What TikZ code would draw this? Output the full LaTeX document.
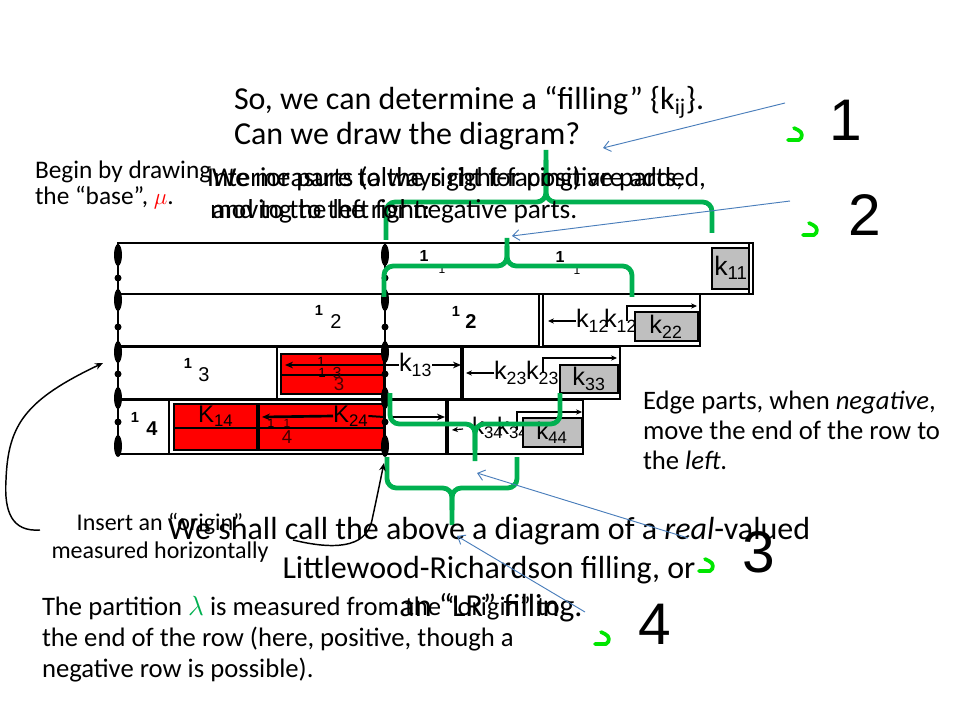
\documentclass[tikz,border=0pt]{standalone}
\usepackage{fontspec}
\setmainfont{Carlito}
\newfontfamily\arialf{Liberation Sans}
\usetikzlibrary{arrows.meta}
\definecolor{brgreen}{HTML}{00B050}
\definecolor{bluearr}{HTML}{4A7EBB}
\definecolor{markgreen}{HTML}{00E600}
\definecolor{boxgray}{HTML}{BFBFBF}
\begin{document}
\begin{tikzpicture}[x=0.75pt,y=-0.75pt,
  txt/.style={inner sep=0pt, outer sep=0pt, anchor=base west},
  ctxt/.style={inner sep=0pt, outer sep=0pt, anchor=base},
  rowbox/.style={draw=black, line width=2pt},
  gbox/.style={draw=black, fill=boxgray, line width=1.5pt},
  redbox/.style={draw=black, fill=red, line width=1.8pt},
  thinarr/.style={-{Stealth[length=4.5pt,width=4pt]}, line width=0.9pt},
  thickarr/.style={-{Stealth[length=6pt,width=5pt]}, line width=2pt},
  brace/.style={draw=brgreen, line width=3.6pt, rounded corners=7pt},
  bluel/.style={draw=bluearr, line width=0.7pt, -{Straight Barb[length=5pt,width=8pt]}},
  lab/.style={inner sep=0pt, outer sep=0pt, font=\arialf},
  curvearr/.style={draw=black, line width=1.1pt, -{Stealth[length=6pt,width=5pt]}},
  gmark/.pic={\draw[markgreen, line width=2.8pt, line cap=round, line join=round]
      (-1,-7) -- (3,-5) .. controls (8,-3) and (8,3) .. (4,5) -- (-7,5);},
  big/.style={inner sep=0pt, font=\arialf\fontsize{44}{44}\selectfont},
  f24/.style={font=\fontsize{24}{28}\selectfont},
  f20/.style={font=\fontsize{20}{24}\selectfont},
  fov/.style={font=\fontsize{20.5}{24}\selectfont},
  f19/.style={font=\fontsize{19}{23}\selectfont},
  f18/.style={font=\fontsize{18}{22}\selectfont}
]
\fill[white] (0,0) rectangle (960,720);
\useasboundingbox (0,0) rectangle (960,720);

% ---------- Row 1 ----------
\draw[rowbox] (118,243) rectangle (753,294);
\draw[line width=1pt] (749,243) -- (749,294);
\draw[gbox] (712,248) rectangle (749,289);
\node[lab] (k11) at (731,268) {\fontsize{20}{20}\selectfont k\textsubscript{11}};
\node[lab] (r1a) at (424,256) {\fontsize{12}{12}\selectfont\bfseries 1};
\node[lab] (r1b) at (442,269) {\fontsize{9}{9}\selectfont 1};
\node[lab] (r1c) at (560,257) {\fontsize{12}{12}\selectfont\bfseries 1};
\node[lab] (r1d) at (577,270) {\fontsize{9}{9}\selectfont 1};

% ---------- Row 2 ----------
\draw[rowbox] (118,294) rectangle (539,346);
\draw[rowbox] (543,294) rectangle (700,346);
\node[lab] (r2a) at (319,310) {\fontsize{11}{11}\selectfont\bfseries 1};
\node[lab] (r2b) at (336,322) {\fontsize{15}{15}\selectfont 2};
\node[lab] (r2c) at (456,311) {\fontsize{11}{11}\selectfont\bfseries 1};
\node[lab] (r2d) at (471,322) {\fontsize{15}{15}\selectfont\bfseries 2};
\node[lab, anchor=west] (k12a) at (576,321) {\fontsize{19}{19}\selectfont k\textsubscript{12}};
\node[lab, anchor=west] (k12b) at (604,321) {\fontsize{19}{19}\selectfont k\textsubscript{12}};
\coordinate (a12) at (548,321);
\draw[thinarr] (k12a.west) -- (a12);
\draw[gbox] (635,312) rectangle (698,341);
\node[lab] (k22) at (666,327) {\fontsize{19}{19}\selectfont k\textsubscript{22}};
\coordinate (p12s) at (627,321);
\coordinate (p12e) at (697,306);
\draw[thinarr] (p12s) |- (p12e);

% ---------- Row 3 ----------
\draw[rowbox] (118,347) rectangle (620,399);
\draw[rowbox] (277,347) -- (277,399);
\draw[redbox] (281,354) rectangle (384,394);
\coordinate (r3s) at (383,365);
\coordinate (r3e) at (285,365);
\draw[thickarr] (r3s) -- (r3e);
\draw[line width=0.8pt] (282,375) -- (384,375);
\node[lab] (r3a) at (188,363) {\fontsize{11}{11}\selectfont\bfseries 1};
\node[lab] (r3b) at (204,375) {\fontsize{15}{15}\selectfont 3};
\node[lab] (r3c) at (321,362) {\fontsize{10}{10}\selectfont 1};
\node[lab] (r3d) at (322,373) {\fontsize{10}{10}\selectfont 1};
\node[lab, text=black!80!red] (r3e3) at (337,373) {\fontsize{12}{12}\selectfont 3};
\node[lab, text=black!70!red] (r3f) at (339,384) {\fontsize{14}{14}\selectfont 3};
\draw[line width=2.8pt] (462,347) -- (462,399);
\node[lab, anchor=west] (k13) at (399,365) {\fontsize{19}{19}\selectfont k\textsubscript{13}};
\coordinate (o13) at (386,365);
\coordinate (e13) at (461,365);
\draw[line width=1.4pt] (o13) -- (k13.west);
\draw[thickarr, line width=1.4pt] (k13.east) -- (e13);
\node[lab, anchor=west] (k23a) at (494,373) {\fontsize{19}{19}\selectfont k\textsubscript{23}};
\node[lab, anchor=west] (k23b) at (526,373) {\fontsize{19}{19}\selectfont k\textsubscript{23}};
\coordinate (a23) at (466,373);
\draw[thinarr] (k23a.west) -- (a23);
\draw[gbox] (560,365) rectangle (618,393);
\node[lab] (k33) at (589,379) {\fontsize{19}{19}\selectfont k\textsubscript{33}};
\coordinate (p23s) at (543,373);
\coordinate (p23e) at (617,358);
\draw[thinarr] (p23s) |- (p23e);

% ---------- Row 4 ----------
\draw[rowbox] (118,400) rectangle (583,454);
\draw[rowbox] (169,400) -- (169,454);
\draw[redbox] (174,404) rectangle (384,450);
\draw[line width=2.5pt] (258,404) -- (258,450);
\draw[line width=1pt] (175,428) -- (384,428);
\node[lab] (r4a) at (135,417) {\fontsize{11}{11}\selectfont\bfseries 1};
\node[lab] (r4b) at (152,429) {\fontsize{15}{15}\selectfont\bfseries 4};
\node[lab, anchor=west] (k14) at (198,416) {\fontsize{18}{18}\selectfont K\textsubscript{14}};
\node[lab, anchor=west] (k24) at (333,416) {\fontsize{18}{18}\selectfont K\textsubscript{24}};
\coordinate (a24) at (262,417);
\draw[thickarr] (k24.west) -- (a24);
\coordinate (o24) at (384,417);
\draw[line width=1.5pt] (k24.east) -- (o24);
\node[lab] (r4c) at (271,423) {\fontsize{9}{9}\selectfont 1};
\node[lab, text=black!80!red] (r4d) at (287,423) {\fontsize{9}{9}\selectfont 1};
\node[lab, text=black!75!red] (r4e) at (287,437) {\fontsize{14}{14}\selectfont 4};
\draw[line width=2.5pt] (447,400) -- (447,454);
\coordinate (o34) at (388,417);
\coordinate (e34) at (445,417);
\draw[thickarr, line width=1.6pt] (o34) -- (e34);
\node[lab, anchor=west] (k34a) at (472,428) {\fontsize{18}{18}\selectfont k\textsubscript{34}};
\node[lab, anchor=west] (k34b) at (497,428) {\fontsize{18}{18}\selectfont k\textsubscript{34}};
\coordinate (a34) at (452,430);
\draw[thinarr] (463,429) -- (a34);
\draw[gbox] (523,418) rectangle (582,447);
\node[lab] (k44) at (552,433) {\fontsize{18}{18}\selectfont k\textsubscript{44}};
\coordinate (p34s) at (517,430);
\coordinate (p34e) at (582,412);
\draw[thinarr] (p34s) |- (p34e);

% ---------- base and origin lines ----------
\foreach \xx in {118,385} {
  \draw[line width=2.2pt] (\xx,243) -- (\xx,456);
  \foreach \yy in {255,300,352,398,446}
    \fill (\xx,\yy) ellipse [x radius=4, y radius=11];
  \foreach \yy in {278,327,374,422}
    \fill (\xx,\yy) circle [radius=3.5];
}

% ---------- green braces ----------
\coordinate (tip1) at (546,150);
\coordinate (tip2) at (507,238);
\coordinate (tip3) at (475,461);
\coordinate (tip4) at (452,525);
\draw[brace] (386,240) |- (546,202) -- (tip1);
\draw[brace] (546,160) -- (546,202) -| (712,233);
\draw[brace] (384,297) |- (507,266) -- (tip2);
\draw[brace] (507,246) -- (507,266) -| (632,297);
\draw[brace] (390,393) |- (475,424) -- (tip3);
\draw[brace] (475,450) -- (475,424) -| (560,393);
\draw[brace] (387,457) |- (452,488) -- (tip4);
\draw[brace] (452,510) -- (452,488) -| (517,457);

% ---------- texts ----------
\node[txt, f24] (so1) at (234,110) {So, we can determine a “filling” \{k\textsubscript{ij}\}.};
\node[txt, f24] (so2) at (234,145) {Can we draw the diagram?};
\node[txt, f19] (beg1) at (35,179) {Begin by drawing};
\node[txt, f19] (beg2) at (35,205) {the “base”, {\color{red}$\mu$}.};
\node[txt, fov] (int1) at (207,187) {Interior parts (always right-facing) are added,};
\node[txt, fov] (int2) at (210,219) {moving to the right:};
\node[txt, fov] (we1) at (212,187) {We measure to the right for positive parts,};
\node[txt, fov] (we2) at (212,219) {and to the left for negative parts.};
\node[txt, f20] (edge1) at (643,409) {Edge parts, when \emph{negative},};
\node[txt, f20] (edge2) at (643,439) {move the end of the row to};
\node[txt, f20] (edge3) at (643,469) {the \emph{left}.};
\node[ctxt, f18] (ins1) at (160,530) {Insert an “origin”};
\node[ctxt, f18] (ins2) at (160,558) {measured horizontally};
\node[ctxt, f24] (sh1) at (489,539) {We shall call the above a diagram of a \emph{real}-valued};
\node[ctxt, f24] (sh2) at (489,578) {Littlewood-Richardson filling, or};
\node[ctxt, f24] (sh3) at (491,616) {an “LR” filling.};
\node[txt, f20] (par1) at (42,615) {The partition {\color{brgreen}$\lambda$} is measured from the “origin” to};
\node[txt, f20] (par2) at (42,646) {the end of the row (here, positive, though a};
\node[txt, f20] (par3) at (42,677) {negative row is possible).};

% ---------- curved arrows ----------
\coordinate (c1s) at (40,530);
\coordinate (c1e) at (103,363);
\draw[curvearr] (c1s) .. controls (12,532) and (4,512) .. (6,480)
   .. controls (8,425) and (25,400) .. (c1e);
\coordinate (c2s) at (293,540);
\coordinate (c2e) at (384,463);
\draw[curvearr] (c2s) .. controls (330,549) and (366,550) .. (372,520)
   .. controls (377,497) and (380,482) .. (c2e);

% ---------- numbers, marks and blue arrows ----------
\node[big] (n1) at (846,120) {1};
\node[big] (n2) at (865,215) {2};
\node[big] (n3) at (759,552) {3};
\node[big] (n4) at (655,624) {4};
\pic at (795,135) {gmark};
\pic at (810,230) {gmark};
\pic at (706,566) {gmark};
\pic at (602,639) {gmark};
\coordinate (b1) at (785,103);
\coordinate (b2) at (790,201);
\coordinate (b3) at (688,538);
\coordinate (b4) at (585,612);
\coordinate (h1) at (603,148);
\draw[bluel] (b1) -- (h1);
\draw[bluel] (b2) -- (512,236);
\draw[bluel] (b3) -- (477,473);
\draw[bluel] (b4) -- (457,536);
\end{tikzpicture}
\end{document}
